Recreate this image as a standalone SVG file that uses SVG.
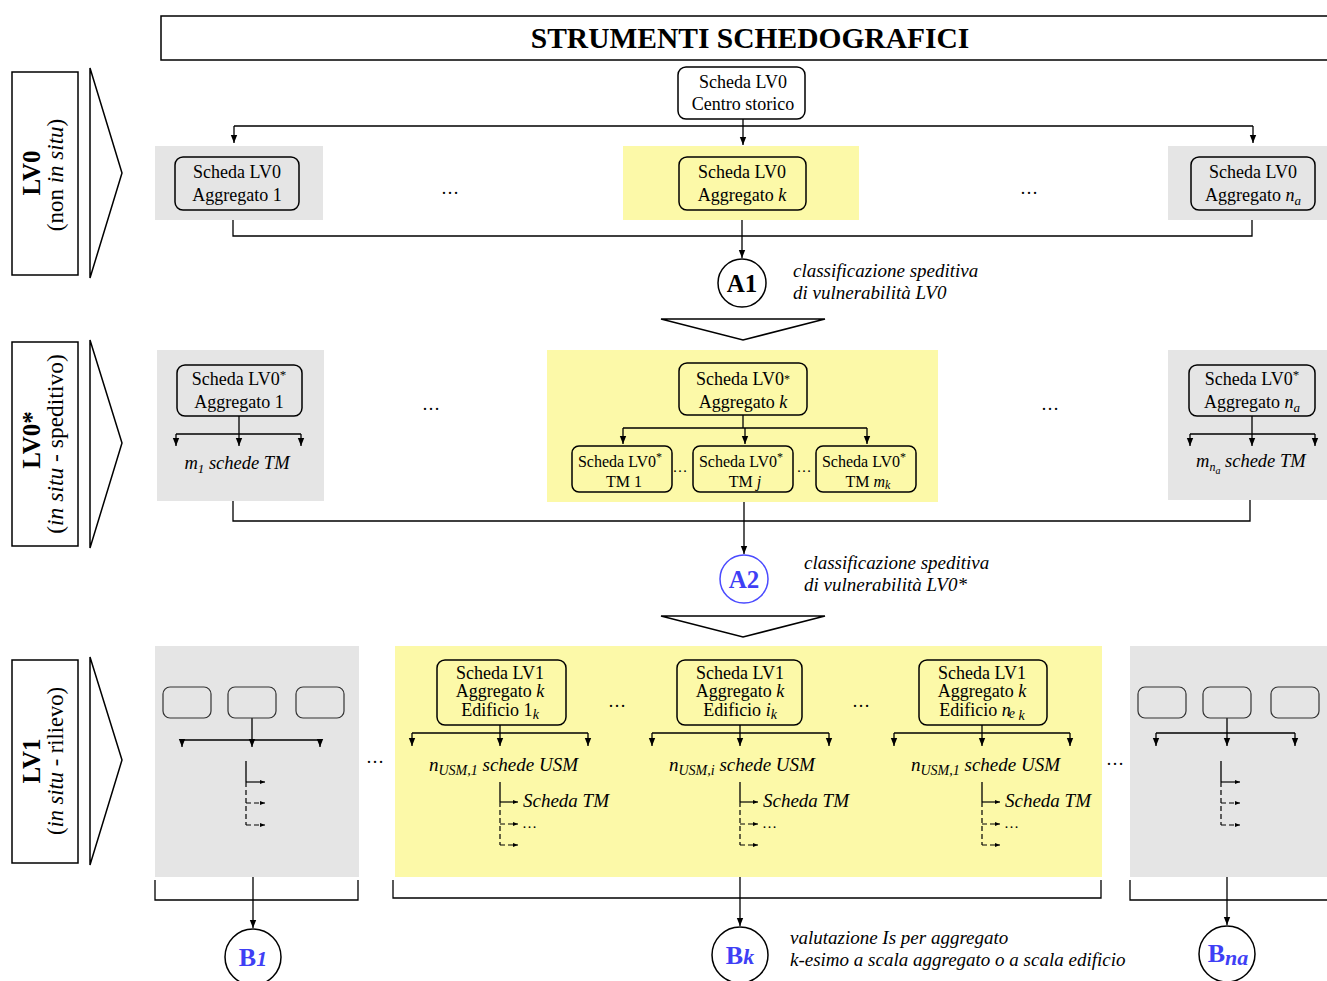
<svg xmlns="http://www.w3.org/2000/svg" width="1327" height="981" viewBox="0 0 1327 981">
<style>
text{font-family:"Liberation Serif","Times New Roman",serif;fill:#000}
.n{font-size:18px;text-anchor:middle}
.s{font-size:16px;text-anchor:middle}
.it{font-style:italic}
.an{font-size:19px;font-style:italic}
.box{fill:none;stroke:#000;stroke-width:1.5}
.sbox{fill:none;stroke:#333;stroke-width:1.2}
.gray{fill:#e5e5e5}
.yel{fill:#fcf9a8}
.ln{fill:none;stroke:#000;stroke-width:1.3}
.ar{fill:none;stroke:#000;stroke-width:1.3;marker-end:url(#ah)}
.sa{fill:none;stroke:#000;stroke-width:1.2;marker-end:url(#sh)}
.da{fill:none;stroke:#000;stroke-width:1.2;stroke-dasharray:5 3}
.dsa{fill:none;stroke:#000;stroke-width:1.2;stroke-dasharray:5 3;marker-end:url(#sh)}
.circ{fill:#fff;stroke:#000;stroke-width:1.5}
.blue{fill:#3f3ff5}
.dots{font-size:18px;text-anchor:middle}
.usm{font-size:19px;font-style:italic}
</style>
<defs>
<marker id="ah" viewBox="0 0 10 10" refX="10" refY="5" markerWidth="8" markerHeight="8" markerUnits="userSpaceOnUse" orient="auto"><path d="M0,1 L10,5 L0,9 z" fill="#000"/></marker>
<marker id="sh" viewBox="0 0 10 10" refX="10" refY="5" markerWidth="5" markerHeight="5" markerUnits="userSpaceOnUse" orient="auto"><path d="M0,1 L10,5 L0,9 z" fill="#000"/></marker>
</defs>
<rect width="1327" height="981" fill="#fff"/>

<g id="title">
<rect x="161" y="16" width="1180" height="44" class="box"/>
<text x="750" y="48" style="font-size:29.5px;font-weight:bold;text-anchor:middle">STRUMENTI SCHEDOGRAFICI</text>
</g>

<g id="level-labels">
<rect x="12" y="72" width="66" height="203" class="box"/>
<text transform="translate(40,173) rotate(-90)" style="font-size:25px;font-weight:bold;text-anchor:middle">LV0</text>
<text transform="translate(63,175) rotate(-90)" style="font-size:23px;text-anchor:middle">(non <tspan class="it">in situ</tspan>)</text>
<polygon points="90,68 122,173 90,278" class="box"/>

<rect x="12" y="342" width="66" height="204" class="box"/>
<text transform="translate(40,440) rotate(-90)" style="font-size:25px;font-weight:bold;text-anchor:middle">LV0*</text>
<text transform="translate(63,444) rotate(-90)" style="font-size:23.5px;text-anchor:middle">(<tspan class="it">in situ</tspan> - speditivo)</text>
<polygon points="90,340 122,443 90,548" class="box"/>

<rect x="12" y="660" width="66" height="203" class="box"/>
<text transform="translate(40,761) rotate(-90)" style="font-size:25px;font-weight:bold;text-anchor:middle">LV1</text>
<text transform="translate(63,761) rotate(-90)" style="font-size:22.5px;text-anchor:middle">(<tspan class="it">in situ</tspan> - rilievo)</text>
<polygon points="90,657 122,760 90,865" class="box"/>
</g>

<g id="panels">
<rect x="155" y="146" width="168" height="74" class="gray"/>
<rect x="623" y="146" width="236" height="74" class="yel"/>
<rect x="1168" y="146" width="159" height="74" class="gray"/>
<rect x="157" y="350" width="167" height="151" class="gray"/>
<rect x="547" y="350" width="391" height="152" class="yel"/>
<rect x="1168" y="350" width="159" height="150" class="gray"/>
<rect x="155" y="646" width="204" height="231" class="gray"/>
<rect x="395" y="646" width="707" height="231" class="yel"/>
<rect x="1130" y="646" width="197" height="231" class="gray"/>
</g>

<g id="connectors">
<path d="M743,119 V126 M234,126 H1253" class="ln"/>
<path d="M234,126 V143" class="ar"/>
<path d="M743,126 V145" class="ar"/>
<path d="M1253,126 V143" class="ar"/>
<path d="M233,220 V236 H1252 V220" class="ln"/>
<path d="M742,220 V258" class="ar"/>

<path d="M239,416 V434 M176,434 H301" class="ln"/>
<path d="M176,434 V446" class="ar"/><path d="M239,434 V446" class="ar"/><path d="M301,434 V446" class="ar"/>
<path d="M743,415 V428 M623,428 H867" class="ln"/>
<path d="M623,428 V444" class="ar"/><path d="M745,428 V444" class="ar"/><path d="M867,428 V444" class="ar"/>
<path d="M1252,416 V434 M1190,434 H1315" class="ln"/>
<path d="M1190,434 V446" class="ar"/><path d="M1252,434 V446" class="ar"/><path d="M1315,434 V446" class="ar"/>
<path d="M233,501 V521 H1250 V500" class="ln"/>
<path d="M744,502 V554" class="ar"/>

<path d="M252,718 V740 M182,740 H320" class="ln"/>
<path d="M182,740 V747" class="ar"/><path d="M252,740 V747" class="ar"/><path d="M320,740 V747" class="ar"/>
<path d="M246,761 V782" class="ln"/><path d="M246,782 H265" class="sa"/>
<path d="M246,782 V825" class="da"/><path d="M246,803 H265" class="dsa"/><path d="M246,825 H265" class="dsa"/>

<path d="M500,725 V733 M412,733 H588" class="ln"/>
<path d="M412,733 V746" class="ar"/><path d="M500,733 V746" class="ar"/><path d="M588,733 V746" class="ar"/>
<path d="M500,782 V802" class="ln"/><path d="M500,802 H518" class="sa"/>
<path d="M500,802 V845" class="da"/><path d="M500,824 H518" class="dsa"/><path d="M500,845 H518" class="dsa"/>

<path d="M740,725 V733 M652,733 H829" class="ln"/>
<path d="M652,733 V746" class="ar"/><path d="M740,733 V746" class="ar"/><path d="M829,733 V746" class="ar"/>
<path d="M740,782 V802" class="ln"/><path d="M740,802 H758" class="sa"/>
<path d="M740,802 V845" class="da"/><path d="M740,824 H758" class="dsa"/><path d="M740,845 H758" class="dsa"/>

<path d="M982,725 V733 M894,733 H1070" class="ln"/>
<path d="M894,733 V746" class="ar"/><path d="M982,733 V746" class="ar"/><path d="M1070,733 V746" class="ar"/>
<path d="M982,782 V802" class="ln"/><path d="M982,802 H1000" class="sa"/>
<path d="M982,802 V845" class="da"/><path d="M982,824 H1000" class="dsa"/><path d="M982,845 H1000" class="dsa"/>

<path d="M1227,718 V733 M1156,733 H1295" class="ln"/>
<path d="M1156,733 V746" class="ar"/><path d="M1227,733 V746" class="ar"/><path d="M1295,733 V746" class="ar"/>
<path d="M1221,761 V782" class="ln"/><path d="M1221,782 H1240" class="sa"/>
<path d="M1221,782 V825" class="da"/><path d="M1221,803 H1240" class="dsa"/><path d="M1221,825 H1240" class="dsa"/>

<path d="M155,880 V900 H358 V880" class="ln"/>
<path d="M253,877 V928" class="ar"/>
<path d="M393,880 V898 H1101 V880" class="ln"/>
<path d="M740,877 V926" class="ar"/>
<path d="M1130,880 V900 H1327" class="ln"/>
<path d="M1227,877 V925" class="ar"/>
</g>

<g id="centro-storico">
<rect x="678" y="67" width="127" height="52" rx="8" class="box" fill="#fff"/>
<text x="743" y="88" class="n">Scheda LV0</text>
<text x="743" y="110" class="n">Centro storico</text>
</g>

<g id="lv0-agg1">
<rect x="175" y="157" width="124" height="53" rx="8" class="box"/>
<text x="237" y="178" class="n">Scheda LV0</text>
<text x="237" y="201" class="n">Aggregato 1</text>
</g>
<g id="lv0-aggk">
<rect x="679" y="157" width="127" height="53" rx="8" class="box"/>
<text x="742" y="178" class="n">Scheda LV0</text>
<text x="742" y="201" class="n">Aggregato <tspan class="it">k</tspan></text>
</g>
<g id="lv0-aggna">
<rect x="1191" y="157" width="124" height="53" rx="8" class="box"/>
<text x="1253" y="178" class="n">Scheda LV0</text>
<text x="1253" y="201" class="n">Aggregato <tspan class="it">n</tspan><tspan class="it" font-size="13" dy="4">a</tspan></text>
</g>
<text x="450" y="194" class="dots">…</text>
<text x="1029" y="194" class="dots">…</text>

<g id="A1">
<circle cx="742" cy="283" r="24" class="circ"/>
<text x="742" y="292" style="font-size:25px;font-weight:bold;text-anchor:middle">A1</text>
<text x="793" y="277" class="an">classificazione speditiva</text>
<text x="793" y="299" class="an">di vulnerabilità LV0</text>
<polygon points="661,319 825,319 743,340" class="box" fill="#fff"/>
</g>

<g id="lv0s-agg1">
<rect x="177" y="365" width="125" height="51" rx="8" class="box"/>
<text x="239" y="385" class="n">Scheda LV0<tspan font-size="13" dy="-6">*</tspan></text>
<text x="239" y="408" class="n">Aggregato 1</text>
<text x="237" y="469" style="font-size:18.5px;font-style:italic;text-anchor:middle">m<tspan font-size="13" dy="4">1</tspan><tspan dy="-4"> schede TM</tspan></text>
</g>
<g id="lv0s-aggk">
<rect x="679" y="363" width="128" height="52" rx="8" class="box"/>
<text x="743" y="385" class="n">Scheda LV0<tspan font-size="12" dy="-2">*</tspan></text>
<text x="743" y="408" class="n">Aggregato <tspan class="it">k</tspan></text>
</g>
<g id="tm1">
<rect x="572" y="446" width="100" height="46" rx="7" class="box"/>
<text x="620" y="467" class="s">Scheda LV0<tspan font-size="12" dy="-6">*</tspan></text>
<text x="624" y="487" class="s">TM 1</text>
</g>
<g id="tmj">
<rect x="693" y="446" width="100" height="46" rx="7" class="box"/>
<text x="741" y="467" class="s">Scheda LV0<tspan font-size="12" dy="-6">*</tspan></text>
<text x="745" y="487" class="s">TM <tspan class="it">j</tspan></text>
</g>
<g id="tmmk">
<rect x="816" y="446" width="100" height="46" rx="7" class="box"/>
<text x="864" y="467" class="s">Scheda LV0<tspan font-size="12" dy="-6">*</tspan></text>
<text x="868" y="487" class="s">TM <tspan class="it">m</tspan><tspan class="it" font-size="12" dy="2">k</tspan></text>
</g>
<text x="680" y="472" style="font-size:15px;text-anchor:middle">…</text>
<text x="804" y="472" style="font-size:15px;text-anchor:middle">…</text>
<g id="lv0s-aggna">
<rect x="1189" y="365" width="126" height="51" rx="8" class="box"/>
<text x="1252" y="385" class="n">Scheda LV0<tspan font-size="13" dy="-6">*</tspan></text>
<text x="1252" y="408" class="n">Aggregato <tspan class="it">n</tspan><tspan class="it" font-size="13" dy="4">a</tspan></text>
<text x="1196" y="467" style="font-size:18.5px;font-style:italic">m<tspan font-size="12" dy="4">n</tspan><tspan font-size="10" dy="3">a</tspan><tspan dy="-7"> schede TM</tspan></text>
</g>
<text x="431" y="410" class="dots">…</text>
<text x="1050" y="410" class="dots">…</text>

<g id="A2">
<circle cx="744" cy="579" r="24" fill="#fff" stroke="#4a4aff" stroke-width="1.5"/>
<text x="744" y="588" class="blue" style="font-size:25px;font-weight:bold;text-anchor:middle">A2</text>
<text x="804" y="569" class="an">classificazione speditiva</text>
<text x="804" y="591" class="an">di vulnerabilità LV0*</text>
<polygon points="661,616 825,616 743,637" class="box" fill="#fff"/>
</g>

<g id="lv1-left">
<rect x="163" y="687" width="48" height="31" rx="7" class="sbox"/>
<rect x="228" y="687" width="48" height="31" rx="7" class="sbox"/>
<rect x="296" y="687" width="48" height="31" rx="7" class="sbox"/>
</g>
<text x="375" y="763" class="dots">…</text>

<g id="lv1-ed1">
<rect x="437" y="660" width="129" height="65" rx="8" class="box"/>
<text x="500" y="679" class="n">Scheda LV1</text>
<text x="500" y="697" class="n">Aggregato <tspan class="it">k</tspan></text>
<text x="500" y="716" class="n">Edificio 1<tspan class="it" font-size="14" dy="3">k</tspan></text>
<text x="429" y="771" class="usm">n<tspan font-size="14" dy="4">USM,1</tspan><tspan dy="-4"> schede USM</tspan></text>
<text x="523" y="807" class="usm">Scheda TM</text>
<text x="522" y="828" style="font-size:15px">…</text>
</g>
<text x="617" y="707" class="dots">…</text>
<g id="lv1-edi">
<rect x="677" y="660" width="125" height="65" rx="8" class="box"/>
<text x="740" y="679" class="n">Scheda LV1</text>
<text x="740" y="697" class="n">Aggregato <tspan class="it">k</tspan></text>
<text x="740" y="716" class="n">Edificio <tspan class="it">i</tspan><tspan class="it" font-size="14" dy="3">k</tspan></text>
<text x="669" y="771" class="usm">n<tspan font-size="14" dy="4">USM,i</tspan><tspan dy="-4"> schede USM</tspan></text>
<text x="763" y="807" class="usm">Scheda TM</text>
<text x="762" y="828" style="font-size:15px">…</text>
</g>
<text x="861" y="707" class="dots">…</text>
<g id="lv1-edn">
<rect x="919" y="660" width="128" height="65" rx="8" class="box"/>
<text x="982" y="679" class="n">Scheda LV1</text>
<text x="982" y="697" class="n">Aggregato <tspan class="it">k</tspan></text>
<text x="982" y="716" class="n">Edificio <tspan class="it">n</tspan><tspan class="it" font-size="14" dy="2" dx="-2">e</tspan><tspan class="it" font-size="14" dy="2"> k</tspan></text>
<text x="911" y="771" class="usm">n<tspan font-size="14" dy="4">USM,1</tspan><tspan dy="-4"> schede USM</tspan></text>
<text x="1005" y="807" class="usm">Scheda TM</text>
<text x="1004" y="828" style="font-size:15px">…</text>
</g>
<text x="1115" y="765" class="dots">…</text>
<g id="lv1-right">
<rect x="1138" y="687" width="48" height="31" rx="7" class="sbox"/>
<rect x="1203" y="687" width="48" height="31" rx="7" class="sbox"/>
<rect x="1271" y="687" width="48" height="31" rx="7" class="sbox"/>
</g>

<g id="B1">
<circle cx="253" cy="957" r="28" class="circ"/>
<text x="253" y="966" class="blue" style="font-size:26px;font-weight:bold;text-anchor:middle">B<tspan font-style="italic" font-size="22">1</tspan></text>
</g>
<g id="Bk">
<circle cx="740" cy="955" r="28" class="circ"/>
<text x="740" y="964" class="blue" style="font-size:26px;font-weight:bold;text-anchor:middle">B<tspan font-style="italic" font-size="22">k</tspan></text>
<text x="790" y="944" class="an">valutazione Is per aggregato</text>
<text x="790" y="966" class="an">k-esimo a scala aggregato o a scala edificio</text>
</g>
<g id="Bna">
<circle cx="1227" cy="954" r="28" class="circ"/>
<text x="1228" y="962" class="blue" style="font-size:26px;font-weight:bold;text-anchor:middle">B<tspan font-style="italic" font-size="22" dy="3">na</tspan></text>
</g>
</svg>
